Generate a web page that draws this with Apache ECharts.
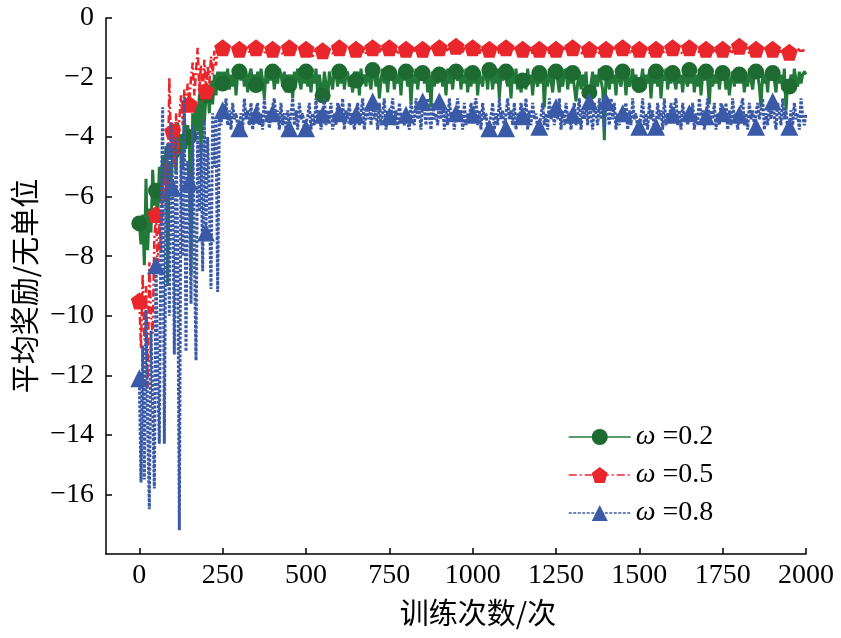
<!DOCTYPE html>
<html>
<head>
<meta charset="utf-8">
<script src="https://cdn.jsdelivr.net/npm/echarts@6/dist/echarts.min.js"></script>
<style>
html,body{margin:0;padding:0;background:#fff;}
#chart{width:841px;height:638px;}
</style>
</head>
<body>
<div id="chart"></div>
<script>
// Sampling grid: one value every 5 episodes, 0..2000
const step = 5, lastEpisode = 2000;
const markerEvery = 50;

const seriesNames = ['ω =0.2', 'ω =0.5', 'ω =0.8'];
const xTicks = [0, 250, 500, 750, 1000, 1250, 1500, 1750, 2000];
const yTicks = [-16, -14, -12, -10, -8, -6, -4, -2, 0];

// ω=0.2 (green): episodes 0..250
const greenEarly = [-6.9,-7.6,-6.6,-8.3,-5.4,-7.8,-6.4,-7.2,-5.1,-6.3,
  -5.8,-6.8,-5.0,-6.2,-4.6,-5.6,-4.3,-9.0,-4.8,-5.5,
  -4.5,-3.8,-5.2,-3.5,-4.6,-3.9,-5.0,-3.3,-4.4,-3.6,
  -4.0,-8.6,-3.2,-4.1,-2.9,-3.8,-2.6,-4.5,-2.8,-3.5,
  -2.6,-2.3,-3.2,-2.1,-2.9,-1.9,-2.6,-1.8,-2.2,-1.8,-2.2];
// episodes 255..2000
const greenLate = [
  -1.8,-2.2,-1.7,-2.4,-1.9,-2.3,-1.7,-2.6,-1.9,-1.8,
  -2.1,-1.7,-2.3,-1.8,-2.5,-1.9,-1.7,-2.2,-1.9,-2.25,
  -1.8,-2.3,-1.7,-2.1,-2.7,-1.8,-2.2,-1.7,-2.1,-1.8,
  -2.4,-1.8,-2.2,-1.7,-1.9,-2.3,-1.8,-2.5,-1.9,-2.25,
  -1.9,-2.7,-1.8,-2.2,-1.7,-2.1,-2.4,-1.8,-2.2,-1.8,
  -2.3,-1.8,-2.5,-1.9,-2.2,-1.7,-2.6,-1.9,-2.3,-2.6,
  -1.8,-2.2,-2.8,-1.8,-2.1,-2.4,-1.7,-1.9,-2.3,-1.8,
  -2.2,-1.7,-2.4,-1.9,-1.8,-2.3,-2.1,-2.5,-1.8,-2.1,
  -1.8,-2.6,-1.7,-2.2,-1.9,-2.3,-1.7,-2.1,-2.4,-1.75,
  -1.9,-2.3,-1.8,-2.7,-2.1,-1.7,-2.2,-1.9,-2.5,-1.85,
  -2.1,-1.7,-2.4,-1.9,-2.2,-1.8,-2.6,-1.7,-2.1,-1.8,
  -2.3,-1.8,-2.9,-1.9,-2.2,-1.7,-2.4,-1.9,-2.1,-1.85,
  -2.2,-1.7,-2.5,-1.9,-3.0,-1.8,-2.3,-1.9,-2.2,-1.9,
  -1.8,-2.3,-1.9,-2.6,-1.7,-2.2,-1.9,-2.4,-1.8,-1.8,
  -2.1,-1.8,-2.4,-1.9,-2.2,-1.7,-2.5,-1.9,-2.3,-1.85,
  -2.2,-1.7,-2.6,-1.8,-2.1,-2.3,-1.7,-1.9,-2.4,-1.75,
  -1.9,-2.4,-1.8,-2.2,-1.7,-2.7,-1.9,-2.1,-1.8,-1.8,
  -2.3,-1.9,-2.7,-1.8,-2.2,-1.7,-2.4,-1.9,-2.5,-2.1,
  -1.9,-2.4,-1.7,-2.2,-1.9,-2.6,-1.8,-2.1,-2.3,-1.85,
  -2.2,-1.8,-3.0,-1.9,-2.3,-1.7,-2.1,-2.5,-1.9,-1.8,
  -2.1,-2.5,-1.8,-2.3,-1.9,-1.7,-2.4,-1.9,-2.2,-1.85,
  -1.9,-2.8,-2.2,-1.8,-2.4,-1.9,-2.3,-1.8,-2.6,-2.5,
  -2.2,-1.8,-2.5,-1.9,-2.3,-1.7,-2.1,-2.4,-4.1,-1.85,
  -2.1,-2.4,-1.8,-2.2,-1.9,-2.6,-1.7,-2.1,-2.3,-1.8,
  -1.9,-2.6,-1.8,-2.3,-2.1,-1.7,-2.4,-1.9,-2.5,-2.25,
  -2.1,-1.7,-2.4,-1.9,-2.2,-1.8,-2.7,-1.9,-2.2,-1.8,
  -2.3,-1.8,-2.7,-1.9,-2.1,-1.7,-2.4,-1.9,-2.2,-1.85,
  -1.9,-2.4,-1.7,-2.2,-1.9,-2.5,-1.8,-2.1,-2.3,-1.75,
  -2.2,-1.8,-2.5,-1.9,-2.3,-1.7,-2.6,-1.9,-2.1,-1.8,
  -2.1,-2.9,-1.8,-2.3,-1.9,-2.2,-1.7,-2.4,-1.9,-1.85,
  -1.9,-2.4,-1.7,-2.6,-2.1,-1.8,-2.3,-1.9,-2.2,-1.9,
  -2.2,-1.8,-2.5,-1.9,-2.3,-1.7,-2.1,-2.4,-1.9,-1.8,
  -1.9,-2.3,-3.0,-1.8,-2.2,-1.9,-2.5,-1.7,-2.1,-1.85,
  -2.1,-2.5,-1.8,-2.2,-1.9,-2.4,-1.7,-3.1,-2.2,-2.3,
  -1.9,-2.4,-1.7,-2.1,-2.3,-1.8,-2.2,-1.9,-1.8,-1.9];

// ω=0.5 (red)
const redEarly = [-9.5,-11.1,-8.6,-10.8,-9.0,-12.4,-8.2,-10.0,-10.6,-7.4,
  -6.6,-8.5,-6.9,-7.8,-5.5,-6.2,-4.8,-5.9,-2.0,-4.4,
  -3.8,-5.0,-3.2,-4.6,-3.4,-2.6,-3.6,-2.4,-3.1,-2.2,
  -2.9,-2.0,-1.5,-2.6,-1.8,-1.0,-2.4,-1.6,-2.8,-1.4,
  -2.45,-1.6,-2.2,-1.3,-1.9,-1.1,-1.6,-1.0,-1.1,-1.0,-1.0];
const redLate = [
  -1.1,-1.0,-1.15,-1.05,-1.1,-1.0,-1.2,-1.05,-1.1,-1.05,
  -1.0,-1.2,-1.05,-1.1,-1.0,-1.15,-1.05,-1.1,-1.0,-1.0,
  -1.15,-1.0,-1.1,-1.05,-1.2,-1.0,-1.1,-1.05,-1.15,-1.05,
  -1.05,-1.15,-1.0,-1.1,-1.05,-1.2,-1.0,-1.1,-1.05,-1.0,
  -1.1,-1.0,-1.2,-1.05,-1.1,-1.0,-1.15,-1.05,-1.1,-1.05,
  -1.0,-1.1,-1.05,-1.3,-1.1,-1.0,-1.15,-1.05,-1.1,-1.1,
  -1.05,-1.15,-1.0,-1.1,-1.05,-1.2,-1.0,-1.1,-1.05,-1.0,
  -1.1,-1.0,-1.15,-1.05,-1.1,-1.0,-1.2,-1.05,-1.1,-1.05,
  -1.0,-1.1,-1.05,-1.15,-1.0,-1.2,-1.05,-1.1,-1.0,-1.0,
  -1.1,-1.05,-1.0,-1.15,-1.05,-1.1,-1.0,-1.2,-1.05,-1.0,
  -1.05,-1.15,-1.0,-1.1,-1.05,-1.2,-1.0,-1.1,-1.05,-1.05,
  -1.0,-1.1,-1.05,-1.2,-1.0,-1.15,-1.05,-1.1,-1.0,-1.05,
  -1.1,-1.0,-1.15,-1.05,-1.1,-1.0,-1.2,-1.05,-1.1,-1.0,
  -1.05,-1.1,-1.0,-1.15,-1.05,-1.1,-1.0,-1.2,-1.05,-0.95,
  -1.1,-1.0,-1.05,-1.15,-1.0,-1.1,-1.05,-1.2,-1.0,-1.0,
  -1.05,-1.1,-1.0,-1.2,-1.05,-1.15,-1.0,-1.1,-1.05,-1.05,
  -1.0,-1.15,-1.05,-1.1,-1.0,-1.2,-1.05,-1.1,-1.0,-1.0,
  -1.1,-1.0,-1.15,-1.05,-1.1,-1.0,-1.2,-1.05,-1.1,-1.05,
  -1.05,-1.1,-1.0,-1.15,-1.05,-1.2,-1.0,-1.1,-1.05,-1.05,
  -1.0,-1.15,-1.05,-1.1,-1.0,-1.2,-1.05,-1.1,-1.0,-1.05,
  -1.1,-1.0,-1.2,-1.05,-1.1,-1.0,-1.15,-1.05,-1.1,-1.0,
  -1.05,-1.15,-1.0,-1.1,-1.05,-1.2,-1.0,-1.1,-1.05,-1.05,
  -1.0,-1.1,-1.05,-1.15,-1.0,-1.2,-1.05,-1.1,-1.0,-1.05,
  -1.1,-1.0,-1.15,-1.05,-1.1,-1.0,-1.2,-1.05,-1.1,-1.0,
  -1.05,-1.1,-1.0,-1.2,-1.05,-1.15,-1.0,-1.1,-1.05,-1.05,
  -1.0,-1.15,-1.05,-1.1,-1.0,-1.2,-1.05,-1.1,-1.0,-1.05,
  -1.1,-1.0,-1.1,-1.05,-1.15,-1.0,-1.2,-1.05,-1.1,-1.0,
  -1.05,-1.15,-1.0,-1.1,-1.05,-1.2,-1.0,-1.1,-1.05,-1.0,
  -1.1,-1.05,-1.15,-1.0,-1.1,-1.05,-1.2,-1.0,-1.1,-1.05,
  -1.0,-1.1,-1.05,-1.15,-1.0,-1.2,-1.05,-1.1,-1.0,-1.05,
  -1.05,-1.1,-1.0,-1.1,-1.05,-1.15,-1.0,-1.2,-1.05,-0.95,
  -1.0,-1.15,-1.05,-1.1,-1.0,-1.2,-1.05,-1.1,-1.0,-1.05,
  -1.1,-1.0,-1.15,-1.05,-1.1,-1.0,-1.2,-1.05,-1.1,-1.05,
  -1.05,-1.1,-1.2,-1.1,-1.05,-1.15,-1.0,-1.2,-1.1,-1.15,
  -1.1,-1.05,-1.1,-1.05,-1.0,-1.1,-1.05,-1.1,-1.05,-1.05];

// ω=0.8 (blue)
const blueEarly = [-12.1,-15.6,-11.0,-15.5,-9.8,-13.6,-16.5,-10.5,-13.0,-15.8,
  -8.3,-11.8,-14.3,-7.0,-3.0,-14.3,-6.0,-4.2,-10.0,-3.5,
  -5.7,-11.3,-4.0,-7.5,-17.2,-4.5,-8.0,-2.65,-11.2,-4.8,
  -5.5,-9.6,-3.6,-7.8,-11.5,-3.8,-6.5,-4.2,-8.5,-3.4,
  -7.2,-4.0,-6.2,-9.1,-3.2,-5.0,-3.4,-9.2,-3.3,-3.6,-3.1];
const blueLate = [
  -3.3,-2.7,-3.6,-3.1,-3.75,-2.85,-3.4,-3.2,-3.6,-3.7,
  -3.2,-3.75,-2.7,-3.4,-3.1,-3.6,-2.85,-3.75,-3.3,-3.25,
  -2.85,-3.6,-3.2,-3.75,-2.7,-3.4,-3.1,-3.7,-3.2,-3.2,
  -2.7,-3.4,-3.1,-3.75,-2.85,-3.6,-3.2,-3.75,-3.1,-3.7,
  -3.2,-2.7,-3.6,-3.1,-3.75,-2.85,-3.4,-3.2,-3.75,-3.7,
  -3.3,-2.85,-3.75,-3.2,-3.6,-2.7,-3.4,-3.1,-3.75,-3.25,
  -2.7,-3.6,-3.1,-3.4,-2.85,-3.75,-3.2,-3.6,-2.85,-3.2,
  -3.3,-2.7,-3.75,-3.1,-3.4,-2.85,-3.6,-3.2,-3.75,-3.25,
  -2.85,-3.6,-3.2,-2.7,-3.75,-3.1,-3.4,-2.85,-3.6,-2.8,
  -3.4,-3.1,-3.75,-2.85,-3.6,-3.2,-2.7,-3.75,-3.1,-3.3,
  -3.2,-2.7,-3.6,-3.1,-3.75,-2.85,-3.4,-3.2,-3.6,-3.25,
  -3.3,-3.75,-2.85,-3.2,-3.6,-2.7,-3.4,-3.1,-3.75,-2.8,
  -3.1,-3.6,-2.7,-3.3,-3.75,-2.85,-3.4,-3.2,-3.6,-2.8,
  -3.4,-2.85,-3.75,-3.1,-3.6,-2.7,-3.3,-3.2,-3.75,-3.2,
  -2.7,-3.4,-3.1,-3.75,-2.85,-3.6,-3.2,-3.4,-2.85,-3.25,
  -3.2,-2.7,-3.6,-3.1,-3.75,-2.85,-3.4,-3.2,-3.75,-3.7,
  -3.3,-2.85,-3.75,-3.2,-3.6,-2.7,-3.4,-3.1,-3.75,-3.7,
  -2.7,-3.4,-3.1,-3.6,-2.85,-3.75,-3.2,-3.4,-2.85,-3.3,
  -3.2,-2.7,-3.75,-3.1,-3.6,-2.85,-3.4,-3.2,-3.75,-3.65,
  -3.3,-2.85,-3.6,-3.2,-3.75,-2.7,-3.4,-3.1,-3.6,-3.0,
  -3.4,-2.7,-3.75,-3.1,-3.6,-2.85,-3.3,-3.2,-3.75,-3.25,
  -2.85,-3.6,-3.2,-2.7,-3.75,-3.1,-3.4,-2.85,-3.6,-2.8,
  -3.3,-3.75,-2.85,-3.2,-3.6,-2.7,-3.4,-3.1,-3.75,-2.8,
  -3.1,-3.6,-2.7,-3.4,-2.85,-3.75,-3.2,-3.6,-3.1,-3.2,
  -3.2,-2.85,-3.75,-3.1,-3.6,-2.7,-3.4,-3.2,-3.75,-3.65,
  -3.3,-2.7,-3.6,-3.2,-3.75,-2.85,-3.4,-3.1,-3.75,-3.65,
  -2.85,-3.4,-3.1,-3.75,-2.7,-3.6,-3.2,-3.4,-2.85,-3.25,
  -3.2,-2.7,-3.6,-3.1,-3.75,-2.85,-3.4,-3.2,-3.6,-3.2,
  -3.4,-2.85,-3.75,-3.2,-3.6,-2.7,-3.3,-3.1,-3.75,-3.3,
  -2.7,-3.6,-3.1,-3.4,-2.85,-3.75,-3.2,-3.6,-2.85,-3.2,
  -3.3,-2.85,-3.75,-3.1,-3.6,-2.7,-3.4,-3.2,-3.75,-3.25,
  -3.2,-2.7,-3.6,-3.2,-3.75,-2.85,-3.4,-3.1,-3.6,-3.65,
  -2.85,-3.4,-3.1,-2.7,-3.75,-3.2,-3.6,-2.85,-3.4,-2.8,
  -3.3,-3.75,-2.85,-3.2,-3.6,-2.7,-3.4,-3.1,-3.75,-3.65,
  -3.1,-3.6,-2.85,-3.4,-3.2,-3.75,-2.7,-3.3,-3.6,-3.2];

// Episode grid
const episodes = [];
for (let e = 0; e <= lastEpisode; e += step) episodes.push(e);

function pairs(early, late) {
  const vals = early.concat(late);
  return episodes.map((x, i) => [x, vals[i]]);
}

const pentagon = 'path://M50,0 L97.6,34.5 L79.4,90.5 L20.6,90.5 L2.4,34.5 Z';
const serif = '"Liberation Serif","Times New Roman",serif';
const cjk = '"Noto Sans CJK SC","Noto Sans",sans-serif';

function markSize(size) {
  return function (v) {
    return (v[0] % markerEvery === 0 && v[0] < lastEpisode) ? size : 0;
  };
}

const chart = echarts.init(document.getElementById('chart'));
chart.setOption({
  animation: false,
  backgroundColor: '#fff',
  grid: { left: 106, right: 35, top: 18, bottom: 84, containLabel: false },
  legend: {
    left: 563, top: 418, orient: 'vertical',
    itemWidth: 62, itemHeight: 20, itemGap: 10,
    data: seriesNames,
    lineStyle: { width: 1.5 },
    formatter: function (name) { return '{w|ω}' + name.slice(1); },
    textStyle: {
      color: '#000', fontFamily: serif, fontSize: 28,
      rich: { w: { fontStyle: 'italic', fontFamily: serif, fontSize: 28, color: '#000' } }
    }
  },
  xAxis: {
    type: 'value', min: -100, max: 2000,
    name: '训练次数/次', nameLocation: 'middle', nameGap: 44,
    nameTextStyle: { fontFamily: cjk, fontSize: 29, color: '#000', padding: [0, 0, 0, 44] },
    axisLine: { show: true, onZero: false, lineStyle: { color: '#000', width: 1.5 } },
    axisTick: { show: true, inside: true, length: 6, lineStyle: { color: '#000', width: 1.5 }, customValues: xTicks },
    axisLabel: { color: '#000', fontFamily: serif, fontSize: 28, margin: 8, customValues: xTicks,
      formatter: function (v) { return String(v); } },
    splitLine: { show: false }
  },
  yAxis: {
    type: 'value', min: -18, max: 0,
    name: '平均奖励/无单位', nameLocation: 'middle', nameGap: 64, nameRotate: 90,
    nameTextStyle: { fontFamily: cjk, fontSize: 29, color: '#000' },
    axisLine: { show: true, onZero: false, lineStyle: { color: '#000', width: 1.5 } },
    axisTick: { show: true, inside: true, length: 6, lineStyle: { color: '#000', width: 1.5 }, customValues: yTicks },
    axisLabel: {
      color: '#000', fontFamily: serif, fontSize: 28, margin: 12, customValues: yTicks,
      formatter: function (v) { return v < 0 ? '\u2212' + Math.abs(v) : String(v); }
    },
    splitLine: { show: false }
  },
  series: [
    {
      name: seriesNames[0], type: 'line', data: pairs(greenEarly, greenLate),
      symbol: 'circle', symbolSize: markSize(16), showSymbol: true, showAllSymbol: true,
      lineStyle: { color: '#22793a', width: 3, type: 'solid' },
      itemStyle: { color: '#1d6b31', borderWidth: 0 },
      emphasis: { disabled: true }, z: 2
    },
    {
      name: seriesNames[1], type: 'line', data: pairs(redEarly, redLate),
      symbol: pentagon, symbolSize: markSize(17), showSymbol: true, showAllSymbol: true,
      lineStyle: { color: '#e8262c', width: 2.5, type: [8, 3, 2, 3] },
      itemStyle: { color: '#e8262c', borderWidth: 0 },
      emphasis: { disabled: true }, z: 3
    },
    {
      name: seriesNames[2], type: 'line', data: pairs(blueEarly, blueLate),
      symbol: 'triangle', symbolSize: markSize(18), showSymbol: true, showAllSymbol: true,
      lineStyle: { color: '#3a5aa8', width: 3, type: [3, 1.5] },
      itemStyle: { color: '#3a5aa8', borderWidth: 0 },
      emphasis: { disabled: true }, z: 4
    }
  ]
});
</script>
</body>
</html>
